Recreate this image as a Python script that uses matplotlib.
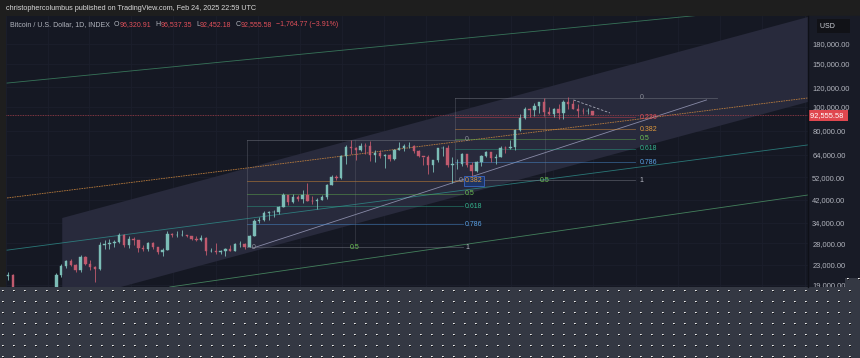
import numpy as np
import pandas as pd
import matplotlib
matplotlib.use("Agg")
import matplotlib.pyplot as plt
import matplotlib.dates as mdates
from matplotlib.patches import Rectangle, Polygon
from matplotlib.lines import Line2D

plt.rcParams['font.family'] = ['Liberation Sans', 'DejaVu Sans']

# BTC/USD candles, one per week (thousands of USD), weeks starting on Monday
week_start = "2022-10-31"
first_open = 20.6
closes = [20.9, 16.3, 16.3, 16.5, 17.1, 17.1, 16.8, 16.8, 16.6,
          17.1, 20.9, 22.7, 23.7, 22.9, 21.8, 24.6, 23.2, 22.4, 22.1, 27.6, 27.9, 28.2,
          28.3, 30.3, 27.6, 29.2, 28.8, 26.9, 26.7, 28.1, 27.1, 25.9, 26.3, 30.5, 30.2,
          30.2, 30.2, 29.9, 29.3, 29.0, 29.4, 26.0, 26.0, 25.8, 26.2, 26.5, 26.2, 27.9,
          27.9, 27.0, 30.0, 34.5, 35.0, 37.1, 37.4, 37.4, 39.5, 43.8, 41.4, 43.0, 42.3,
          43.9, 41.7, 41.6, 42.0, 43.0, 48.3, 52.1, 51.7, 63.1, 68.9, 68.3, 67.2, 69.7,
          69.3, 63.9, 64.9, 63.1, 64.0, 61.5, 66.9, 68.5, 69.6, 69.6, 66.2, 63.2, 62.7,
          58.0, 60.8, 68.2, 68.2, 58.1, 58.7, 58.9, 64.2, 58.0, 54.8, 59.9, 63.6, 65.6,
          62.1, 62.9, 68.4, 67.9, 68.8, 80.4, 90.5, 97.7, 97.0, 101.2, 104.3, 95.2, 93.7,
          98.4, 94.5, 104.5, 102.6, 97.7, 96.5, 96.1, 96.3, 92.56]
highs = [21.5, 21.0, 17.2, 16.8, 17.4, 17.4, 18.4, 17.0, 16.9,
         17.2, 21.3, 23.1, 23.9, 24.2, 23.2, 25.2, 25.0, 23.9, 22.6, 28.4, 28.9, 29.2,
         28.8, 31.0, 30.5, 30.0, 29.8, 28.0, 27.6, 28.3, 28.4, 27.1, 26.8, 31.4, 31.0,
         31.4, 31.8, 30.4, 29.8, 30.0, 30.2, 29.6, 26.8, 28.1, 26.4, 26.9, 27.5, 28.0,
         28.6, 28.0, 30.3, 35.2, 35.9, 38.0, 37.9, 38.4, 39.7, 44.7, 43.4, 44.4, 43.8,
         45.9, 49.0, 43.6, 42.8, 43.8, 48.6, 52.8, 52.9, 64.0, 70.0, 73.8, 68.9, 71.7,
         71.3, 72.7, 66.8, 67.2, 64.7, 64.5, 67.6, 71.9, 70.6, 71.9, 70.1, 66.9, 63.0,
         63.7, 61.0, 68.5, 69.4, 70.0, 62.7, 61.6, 65.0, 64.5, 59.8, 60.7, 64.1, 66.5,
         65.5, 64.5, 69.4, 69.5, 73.6, 81.4, 93.5, 99.6, 98.7, 104.0, 105.2, 108.4, 99.9,
         98.9, 102.7, 106.4, 109.6, 106.5, 102.5, 98.8, 99.5, 96.54]
lows = [20.0, 15.6, 15.8, 15.5, 16.0, 16.7, 16.3, 16.4, 16.3,
        16.6, 17.1, 20.4, 22.3, 22.6, 21.4, 21.4, 22.8, 21.9, 19.6, 21.9, 26.6, 26.6,
        27.2, 28.2, 27.2, 26.9, 27.7, 25.8, 26.2, 26.1, 26.5, 25.4, 24.8, 26.3, 29.6,
        29.7, 30.0, 29.6, 28.9, 28.6, 28.7, 25.2, 25.8, 25.4, 25.4, 24.9, 26.0, 26.1,
        27.2, 26.5, 27.0, 29.9, 33.9, 34.5, 34.8, 35.7, 36.9, 39.4, 40.2, 41.0, 41.5,
        40.7, 41.5, 40.5, 38.5, 41.9, 42.3, 48.1, 50.6, 50.9, 59.0, 64.6, 60.8, 66.4,
        64.5, 60.7, 59.6, 62.4, 56.5, 60.2, 60.8, 66.7, 66.6, 68.5, 65.1, 63.0, 58.4,
        53.5, 54.3, 60.0, 63.5, 57.3, 49.1, 56.1, 57.8, 57.1, 52.6, 54.6, 57.6, 62.7,
        59.8, 58.9, 62.5, 65.2, 67.5, 66.8, 80.2, 89.4, 90.8, 92.0, 94.2, 92.2, 92.5,
        91.3, 89.3, 89.2, 98.3, 97.7, 91.2, 94.1, 93.4, 92.45]

price_ticks = [19000, 23000, 28000, 34000, 42000, 52000, 64000, 80000,
               100000, 120000, 150000, 180000]
last_price = 92555.58

title = "christophercolumbus published on TradingView.com, Feb 24, 2025 22:59 UTC"
legend_parts = [("Bitcoin / U.S. Dollar, 1D, INDEX", "label"), ("O", "label"), ("96,320.91", "value"),
                ("H", "label"), ("96,537.35", "value"), ("L", "label"), ("92,452.18", "value"),
                ("C", "label"), ("92,555.58", "value"), ("\u22121,764.77 (\u22123.91%)", "value")]

# Fibonacci retracements (log scale): start date, end date, price at level 1, price at level 0
fib1 = ("2023-10-16", "2024-08-24", 27000, 73700)
fib1_levels = [0, 0.382, 0.5, 0.618, 0.786, 1]
fib2 = ("2024-08-12", "2025-04-30", 50600, 108800)
fib2_levels = [0, 0.236, 0.382, 0.5, 0.618, 0.786, 1]
fib2_top_end = "2025-08-27"
fib_colors = {0: "#787b86", 0.236: "#c9404c", 0.382: "#d98e35", 0.5: "#5fae4c",
              0.618: "#2a9e82", 0.786: "#4a8fd6", 1: "#787b86"}
fib_text = {0: "#8d909a", 0.236: "#e0505a", 0.382: "#e09a3c", 0.5: "#6cc454",
            0.618: "#35b58f", 0.786: "#5aa2e6", 1: "#b8bac4"}

# trend lines: (date, price) end points
channel = [("2023-01-21", 35500), ("2026-01-06", 231500), ("2026-01-06", 104800), ("2023-01-21", 16100)]
upper_green = [("2022-11-02", 125000), ("2026-01-06", 260000)]
orange_line = [("2022-11-02", 42800), ("2026-01-06", 108800)]
teal_line = [("2022-11-02", 26300), ("2026-01-06", 70200)]
lower_green = [("2023-06-26", 18650), ("2026-01-06", 44000)]
white_trend = [("2023-10-24", 26800), ("2025-08-12", 106800)]
white_dash = [("2025-01-31", 106800), ("2025-03-25", 94600)]

W, H = 860, 358
fig = plt.figure(figsize=(W / 100, H / 100), dpi=100, facecolor="#1e1e1e")

# price scale background
fig.add_artist(Rectangle((808 / W, 71 / H), 52 / W, 271 / H, transform=fig.transFigure,
                         color="#181b26", zorder=0))

ax = fig.add_axes([6 / W, 71 / H, 802 / W, 271 / H])
ax.set_facecolor("#151823")
ax.set_yscale("log")
ax.set_xlim(mdates.datestr2num("2022-10-31 12:00"), mdates.datestr2num("2026-01-06"))
ax.set_ylim(18650, 233700)
for s in ax.spines.values():
    s.set_visible(False)


def dn(d):
    return mdates.datestr2num(d)


# grid
for m in pd.date_range("2022-11-01", "2026-01-01", freq="2MS"):
    ax.axvline(mdates.date2num(m), color="#1b1f2c", lw=0.6, zorder=0)
for p in price_ticks:
    ax.axhline(p, color="#1b1f2c", lw=0.6, zorder=0)

# shaded channel
ax.add_patch(Polygon([(dn(d), p) for d, p in channel], closed=True,
                     facecolor="#282a3c", edgecolor="none", zorder=1))

# long lines
for pts, col, ls, a in [(upper_green, "#3f8a66", "-", 0.8), (orange_line, "#c9853e", (0, (2, 1)), 0.9),
                        (teal_line, "#2f8f8c", "-", 0.8), (lower_green, "#4f9a6a", "-", 0.8),
                        (white_trend, "#a9abcc", "-", 0.75), (white_dash, "#c8cad8", (0, (3, 2)), 0.8)]:
    ax.plot([dn(d) for d, _ in pts], [p for _, p in pts], color=col, lw=0.6, ls=ls,
            alpha=a, zorder=3)

# current price line
ax.axhline(last_price, color="#a5404c", lw=0.6, ls=(0, (1, 1)), zorder=3)


def draw_fib(fib, levels, label_dx, top_end=None, boxed=None):
    d0, d1, p_low, p_high = fib
    x0, x1 = dn(d0), dn(d1)
    for lv in levels:
        p = p_high * (p_low / p_high) ** lv
        xe = dn(top_end) if (lv == 0 and top_end) else x1
        ax.plot([x0, xe], [p, p], color=fib_colors[lv], lw=0.6, alpha=0.55, zorder=3)
        box = None
        if lv == boxed:
            box = dict(boxstyle="square,pad=0.2", fc="#1d3566", ec="#3b66c4", lw=0.6)
        ax.annotate(str(lv), xy=(x1, p), xytext=(label_dx, 0), textcoords="offset points",
                    color=fib_text[lv], fontsize=5, va="center", ha="left", zorder=5, bbox=box)
    xm = (x0 + x1) / 2
    ax.plot([x0, x0], [p_low, p_high], color="#787b86", lw=0.5, alpha=0.45, zorder=3)
    ax.plot([xm, xm], [p_low, p_high], color="#787b86", lw=0.5, alpha=0.35, zorder=3)
    ax.annotate("0.5", xy=(xm, p_low), xytext=(0, 0), textcoords="offset points",
                color="#6cc454", fontsize=5, va="center", ha="center", zorder=5)
    ax.annotate("0", xy=(x0, p_low), xytext=(3, 0), textcoords="offset points",
                color="#8d909a", fontsize=5, va="center", ha="left", zorder=5)


draw_fib(fib1, fib1_levels, 1.5, boxed=0.382)
draw_fib(fib2, fib2_levels, 3.5, fib2_top_end)

# candles
n = len(closes)
xs = mdates.date2num(pd.date_range(week_start, periods=n, freq="7D")) + 3.5
o = np.array([first_open] + closes[:-1]) * 1000
c = np.array(closes) * 1000
hi = np.array(highs) * 1000
lo = np.array(lows) * 1000
cols = np.where(c >= o, "#7cbdb7", "#c05a6e")
ax.vlines(xs, lo, hi, colors=cols, lw=0.6, zorder=4)
ax.bar(xs, np.abs(c - o), bottom=np.minimum(o, c), width=3.5, color=cols,
       edgecolor=cols, lw=0.3, zorder=4)

# price scale
ax.yaxis.tick_right()
ax.set_yticks(price_ticks)
ax.set_yticklabels([f"{p:,.2f}" for p in price_ticks])
ax.yaxis.set_minor_locator(matplotlib.ticker.NullLocator())
ax.tick_params(axis="y", length=0, pad=3, labelsize=5.4, labelcolor="#b2b5be")
ax.set_xticks([])
ax.text(1.003, last_price, f"{last_price:,.2f} ", transform=ax.get_yaxis_transform(),
        color="white", fontsize=5.4, va="center", ha="left",
        bbox=dict(boxstyle="square,pad=0.3", fc="#e0474f", ec="none"), zorder=6, clip_on=False)
fig.text(820 / W, 1 - 26 / H, "USD      ", color="#d1d4dc", fontsize=5, va="center", ha="left",
         bbox=dict(boxstyle="square,pad=0.5", fc="#111217", ec="none"))
fig.add_artist(Line2D([808 / W, 808 / W], [71 / H, 342 / H], color="#0e1017", lw=1))

# header texts
fig.text(6 / W, 1 - 8 / H, title, color="#d9d9d9", fontsize=5.2, va="center", ha="left")
t = fig.text(10 / W, 1 - 25 / H, legend_parts[0][0], color="#b2b5be", fontsize=5,
             va="center", ha="left", zorder=7)
for txt, kind in legend_parts[1:]:
    gap = 3 if kind == "label" or txt.startswith("\u2212") else 0
    t = ax.annotate(txt, xy=(1, 0.5), xycoords=t, xytext=(gap, 0), textcoords="offset points",
                    color="#b2b5be" if kind == "label" else "#e0505a",
                    fontsize=5, va="center", ha="left", zorder=7, annotation_clip=False)

# transparent (checkered) area at the bottom of the screenshot


def checker(h, w, off=0):
    img = np.empty((h, w, 3))
    img[:] = (0.205, 0.22, 0.265)
    img[(3 + off) % 11::11, 2::11] = 0.95
    img[(3 + off) % 11::11, 3::11] = 0.75
    img[(4 + off) % 11::11, 3::11] = 0.05
    return img


cax = fig.add_axes([0, 0, 1, 71 / H])
cax.imshow(checker(71, W), aspect="auto", interpolation="nearest")
cax.axis("off")
rax = fig.add_axes([845 / W, 71 / H, 15 / W, 9 / H])
rax.imshow(checker(9, 15, 8), aspect="auto", interpolation="nearest")
rax.axis("off")

fig.savefig("out.png", dpi=100, facecolor=fig.get_facecolor())
